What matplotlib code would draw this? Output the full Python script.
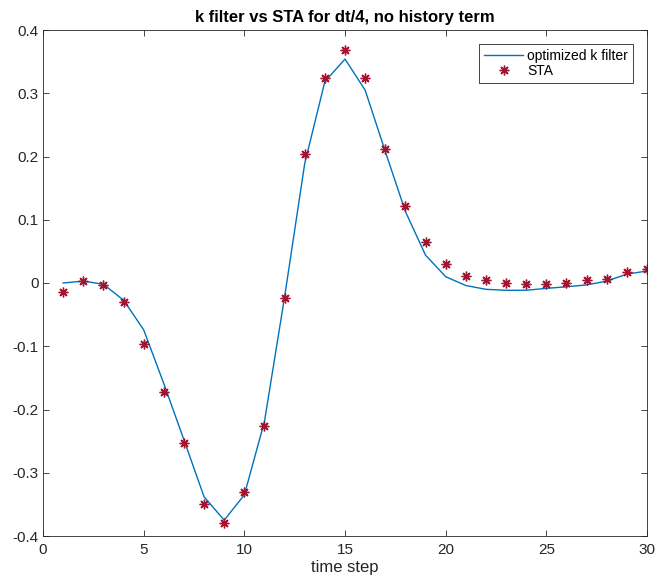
import matplotlib
matplotlib.use("Agg")
import matplotlib.pyplot as plt

time_step = list(range(1, 31))
k_filter = [0.000, 0.003, -0.002, -0.027, -0.074, -0.159, -0.248, -0.338, -0.375, -0.335,
            -0.219, -0.022, 0.189, 0.3185, 0.354, 0.305, 0.208, 0.113, 0.044, 0.010,
            -0.004, -0.010, -0.0115, -0.0115, -0.0085, -0.006, -0.003, 0.003, 0.014, 0.019]
sta = [-0.014, 0.0027, -0.003, -0.030, -0.0965, -0.173, -0.253, -0.349, -0.380, -0.330,
       -0.226, -0.024, 0.2036, 0.324, 0.369, 0.324, 0.212, 0.121, 0.065, 0.0306,
       0.0106, 0.004, 0.000, -0.002, -0.002, 0.000, 0.005, 0.007, 0.018, 0.022]

plt.rcParams['font.family'] = ['Liberation Sans', 'DejaVu Sans']

fig = plt.figure(figsize=(6.55, 5.79), dpi=100)
ax = fig.add_axes([43/655, 1 - 536/579, (647-43)/655, (536-30)/579])

ax.plot(time_step, k_filter, color='#0072BD', lw=1.0, label='optimized k filter')
ax.plot(time_step, sta, ls='none', marker=(8, 2, 0), ms=7, mec='#A2142F', mew=1.0,
        color='#A2142F', label='STA')

ax.set_xlim(0, 30)
ax.set_ylim(-0.4, 0.4)
ax.set_xticks([0, 5, 10, 15, 20, 25, 30])
ax.set_yticks([-0.4, -0.3, -0.2, -0.1, 0, 0.1, 0.2, 0.3, 0.4])
ax.set_yticklabels(['-0.4', '-0.3', '-0.2', '-0.1', '0', '0.1', '0.2', '0.3', '0.4'])
ax.tick_params(direction='in', top=True, right=True, length=4, width=0.6,
               labelsize=11, colors='#262626', pad=3)
ax.tick_params(axis='x', pad=5)
for s in ax.spines.values():
    s.set_linewidth(0.6)
    s.set_color('#262626')

ax.set_xlabel('time step', fontsize=12, color='#262626', labelpad=2)
ax.set_title('k filter vs STA for dt/4, no history term', fontsize=12, fontweight='bold', pad=6)

leg = ax.legend(loc='upper right', bbox_to_anchor=(1 - 14/604, 1 - 14/506),
                borderaxespad=0, fancybox=False, framealpha=1, edgecolor='#262626',
                fontsize=10, handlelength=2.8, handletextpad=0.3, borderpad=0.35,
                labelspacing=0.1)
leg.get_frame().set_linewidth(0.6)

fig.savefig('out.png', dpi=100)
